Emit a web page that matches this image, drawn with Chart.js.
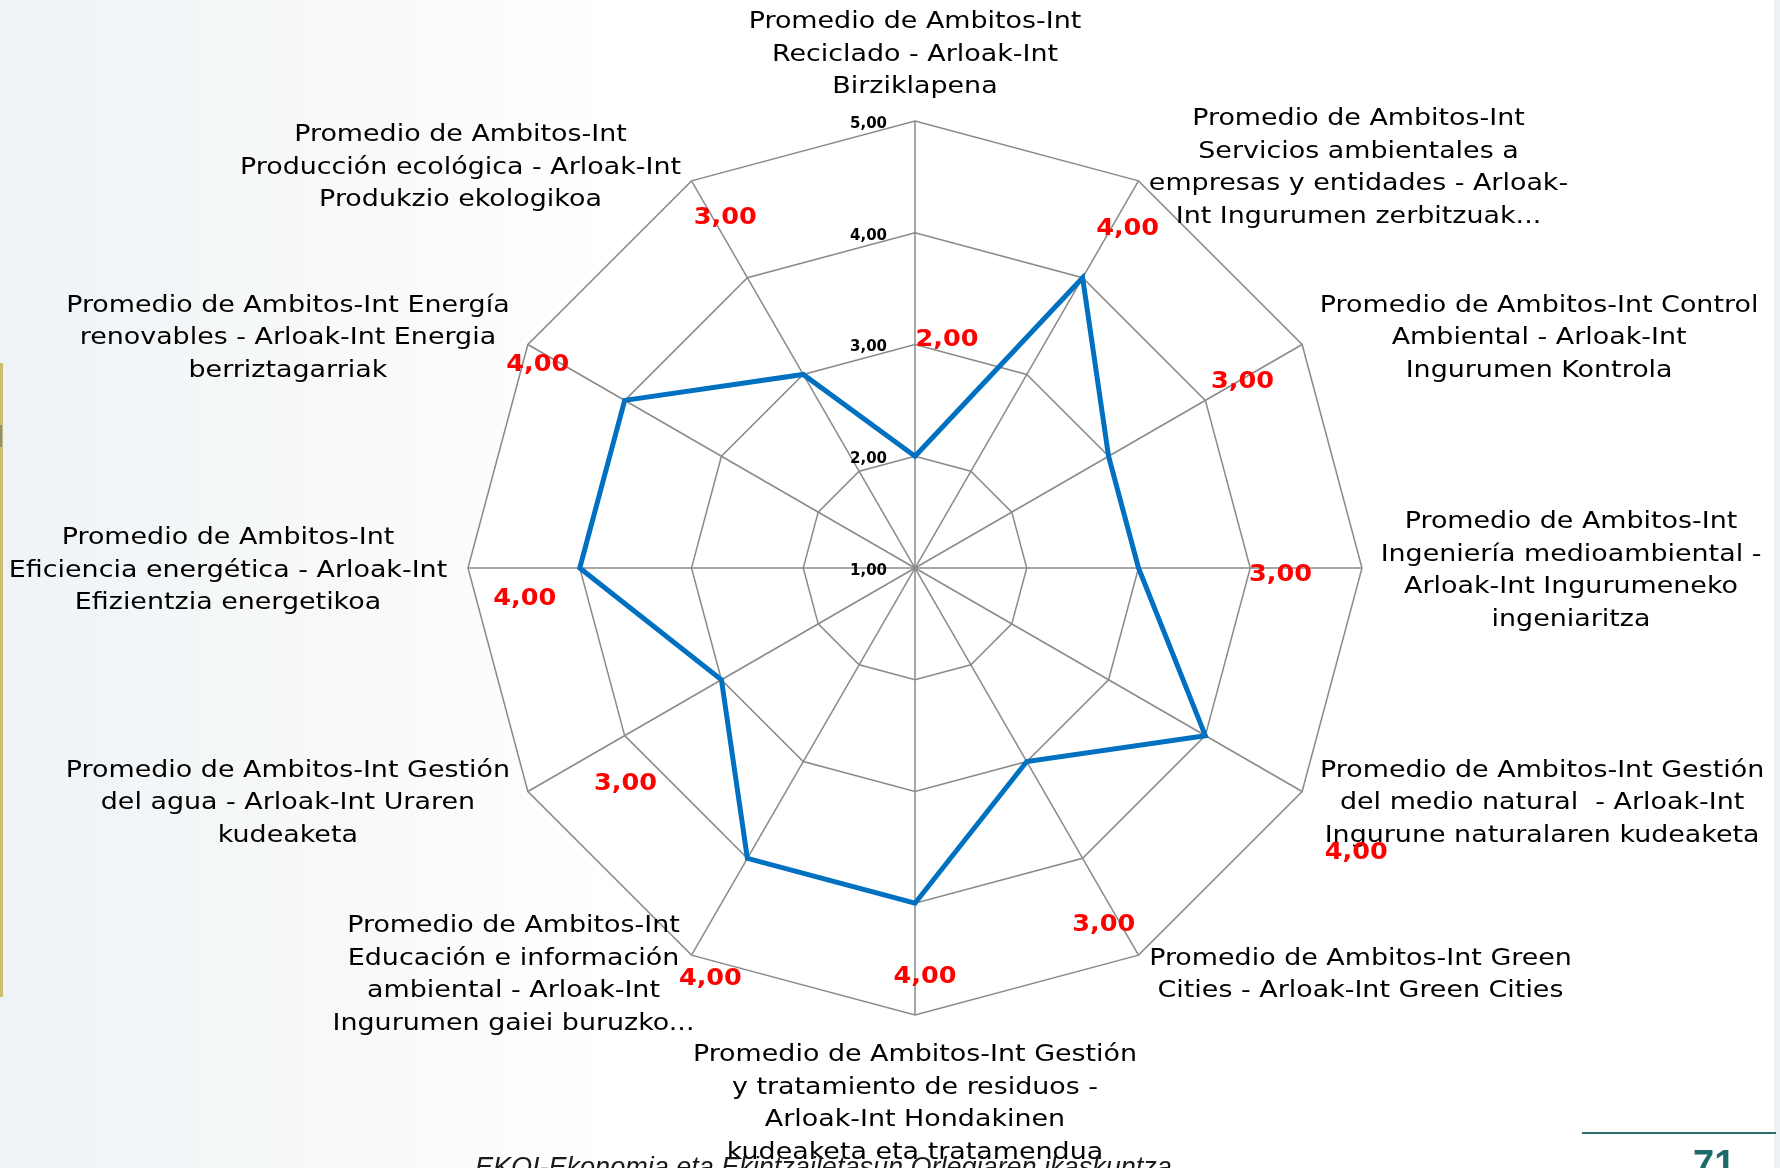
<!DOCTYPE html>
<html><head><meta charset="utf-8">
<script src="https://cdn.jsdelivr.net/npm/chart.js@4/dist/chart.umd.min.js"></script>
<style>html,body{margin:0;padding:0;background:#fff;overflow:hidden}#wrap{width:1780px;height:1168px;position:relative}</style>
</head><body><div id="wrap"><canvas id="c" width="1780" height="1168"></canvas></div>
<script>
// ---- data ----
const categories = [
  ["Promedio de Ambitos-Int", "Reciclado - Arloak-Int", "Birziklapena"],
  ["Promedio de Ambitos-Int", "Servicios ambientales a", "empresas y entidades - Arloak-", "Int Ingurumen zerbitzuak..."],
  ["Promedio de Ambitos-Int Control", "Ambiental - Arloak-Int", "Ingurumen Kontrola"],
  ["Promedio de Ambitos-Int", "Ingeniería medioambiental -", "Arloak-Int Ingurumeneko", "ingeniaritza"],
  ["Promedio de Ambitos-Int Gestión", "del medio natural  - Arloak-Int", "Ingurune naturalaren kudeaketa"],
  ["Promedio de Ambitos-Int Green", "Cities - Arloak-Int Green Cities"],
  ["Promedio de Ambitos-Int Gestión", "y tratamiento de residuos -", "Arloak-Int Hondakinen", "kudeaketa eta tratamendua"],
  ["Promedio de Ambitos-Int", "Educación e información", "ambiental - Arloak-Int", "Ingurumen gaiei buruzko..."],
  ["Promedio de Ambitos-Int Gestión", "del agua - Arloak-Int Uraren", "kudeaketa"],
  ["Promedio de Ambitos-Int", "Eficiencia energética - Arloak-Int", "Efizientzia energetikoa"],
  ["Promedio de Ambitos-Int Energía", "renovables - Arloak-Int Energia", "berriztagarriak"],
  ["Promedio de Ambitos-Int", "Producción ecológica - Arloak-Int", "Produkzio ekologikoa"]
];
const values = [2, 4, 3, 3, 4, 3, 4, 4, 3, 4, 4, 3];
const tickValues = [1, 2, 3, 4, 5];
const tickLabels = ["1,00", "2,00", "3,00", "4,00", "5,00"];
const footerText = "EKOI-Ekonomia eta Ekintzailetasun Orlegiaren ikaskuntza";
const pageNumber = "71";

// ---- layout (styling only) ----
const valueLabelOffsets = [[32,-116],[45,-49],[134,-74],[142,7],[151,117],[77,163],[10,74],[-37,121],[-96,104],[-55,31],[-87,-35],[-78,-156]];
const catOffsets = [[0,-66],[220,-13],[237,-6],[209,3],[240,12],[222,20],[0,89],[-178,20],[-240,12],[-240,3],[-240,-6],[-231,-13]];
const LINE_H = 32.5;

function txt(ctx, s, x, y, font, color, align, sx, baseline) {
  ctx.save();
  ctx.font = font; ctx.fillStyle = color;
  ctx.textBaseline = baseline || 'middle'; ctx.textAlign = align;
  ctx.translate(x, y); ctx.scale(sx, 1);
  ctx.fillText(s, 0, 0);
  ctx.restore();
}

const decor = {
  id: 'decor',
  beforeDraw(chart) {
    const ctx = chart.ctx;
    ctx.save();
    ctx.fillStyle = '#ffffff';
    ctx.fillRect(0, 0, chart.width, chart.height);
    // faint watermark tint (soft)
    const g = ctx.createLinearGradient(0, 0, 620, 0);
    g.addColorStop(0, 'rgba(205,216,224,0.30)');
    g.addColorStop(0.6, 'rgba(205,216,224,0.15)');
    g.addColorStop(1, 'rgba(205,216,224,0)');
    ctx.fillStyle = g;
    ctx.fillRect(0, 0, 620, 1168);
    ctx.fillStyle = '#eef1f4';
    ctx.fillRect(1774, 0, 6, 1168);
    // left olive bar
    ctx.fillStyle = '#cbbd72';
    ctx.fillRect(0, 363, 3, 634);
    ctx.fillStyle = '#8d8d80';
    ctx.fillRect(0, 425, 2, 22);
    ctx.restore();
  },
  afterDraw(chart) {
    const ctx = chart.ctx;
    const s = chart.scales.r;
    // tick labels
    tickValues.forEach((v, i) => {
      const p = s.getPointPositionForValue(0, v);
      txt(ctx, tickLabels[i], p.x - 28, p.y + 3, 'bold 15px "DejaVu Sans"', '#000', 'right', 1);
    });
    // category labels
    categories.forEach((lines, i) => {
      const p = s.getPointPosition(i, s.drawingArea);
      const cx = p.x + catOffsets[i][0];
      const cy = p.y + catOffsets[i][1];
      const top = cy - (lines.length - 1) * LINE_H / 2;
      lines.forEach((ln, j) => {
        txt(ctx, ln, cx, top + j * LINE_H, '23px "DejaVu Sans"', '#000', 'center', 1.17);
      });
    });
    // value labels
    const meta = chart.getDatasetMeta(0);
    meta.data.forEach((pt, i) => {
      const lab = values[i].toFixed(2).replace('.', ',');
      txt(ctx, lab, pt.x + valueLabelOffsets[i][0], pt.y + valueLabelOffsets[i][1], 'bold 23px "DejaVu Sans"', '#ff0000', 'center', 1.11);
    });
    // footer
    ctx.save();
    ctx.font = 'italic 100px "Liberation Sans"';
    const w100 = ctx.measureText(footerText).width;
    const fs = 100 * 697 / w100;
    ctx.restore();
    txt(ctx, footerText, 475, 1157 + fs * 0.72, 'italic ' + fs.toFixed(2) + 'px "Liberation Sans"', '#1a1a1a', 'left', 1, 'alphabetic');
    // page number and rule
    ctx.save();
    ctx.strokeStyle = '#2a6d6a'; ctx.lineWidth = 2;
    ctx.beginPath(); ctx.moveTo(1582, 1133); ctx.lineTo(1776, 1133); ctx.stroke();
    ctx.restore();
    txt(ctx, pageNumber, 1693, 1177, 'bold 38px "Liberation Sans"', '#1b6b6b', 'left', 1, 'alphabetic');
  }
};

new Chart(document.getElementById('c'), {
  type: 'radar',
  data: {
    labels: categories,
    datasets: [{
      data: values,
      borderColor: '#0070c0',
      borderWidth: 5,
      borderJoinStyle: 'miter',
      pointRadius: 0,
      fill: false,
      tension: 0
    }]
  },
  options: {
    responsive: false,
    animation: false,
    devicePixelRatio: 1,
    layout: { padding: { left: 468, right: 418, top: 121, bottom: 153 } },
    plugins: { legend: { display: false }, tooltip: { enabled: false } },
    scales: {
      r: {
        min: 1, max: 5,
        backgroundColor: '#ffffff',
        ticks: { display: false, stepSize: 1 },
        pointLabels: { display: false },
        grid: { color: '#8a8a8a', lineWidth: 1.5 },
        angleLines: { color: '#8a8a8a', lineWidth: 1.5 }
      }
    }
  },
  plugins: [decor]
});
</script>
</body></html>
